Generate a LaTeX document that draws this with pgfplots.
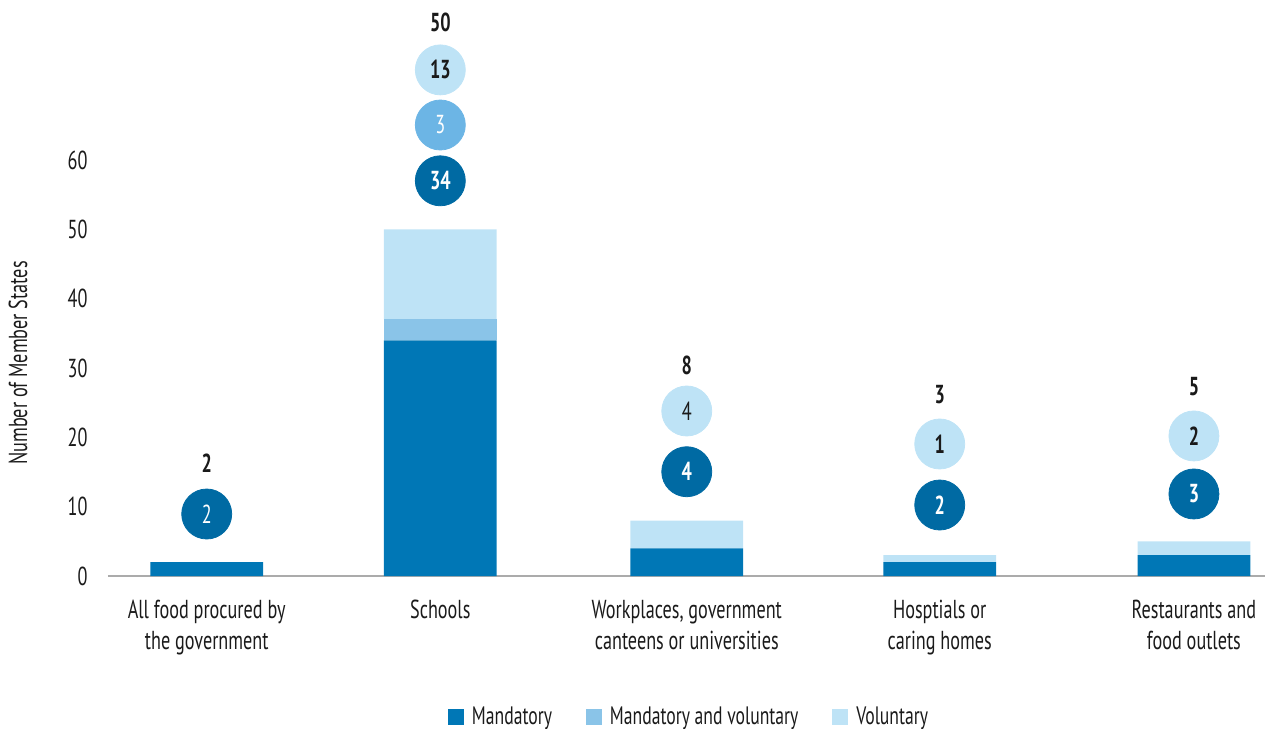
\documentclass[border=0pt]{standalone}
\usepackage{fontspec}
\setmainfont{PT Sans}[FakeStretch=0.7]
\usepackage{pgfplots}
\pgfplotsset{compat=1.18}
\definecolor{mand}{HTML}{0077B6}
\definecolor{both}{HTML}{8AC4E8}
\definecolor{vol}{HTML}{BEE3F6}
\definecolor{mandc}{HTML}{006AA3}
\definecolor{bothc}{HTML}{6CB5E5}
\definecolor{volc}{HTML}{BEE3F6}
\definecolor{axgray}{HTML}{ABABAB}
\definecolor{txt}{HTML}{1A1A1A}
\begin{document}
\begin{tikzpicture}
\pgfplotsset{
  common/.style={scale only axis, width=578.5pt, height=277.33pt,
    xmin=-0.4, xmax=4.288, ymin=0, ymax=80, clip=false,
    font=\fontsize{13}{15}\selectfont},
}
\begin{axis}[common, ybar stacked, bar width=56.35pt,
  axis x line=bottom, axis y line=left, axis line style={-},
  x axis line style={axgray, line width=0.7pt}, y axis line style={draw=none},
  major tick length=0pt, tick style={draw=none},
  ytick={0,10,...,60}, yticklabel style={xshift=-6.7pt, text=txt},
  xtick={0,0.9465,1.945,2.970,4.0},
  xticklabels={{All food procured by\\the government}, Schools, {Workplaces, government\\canteens or universities}, {Hosptials or\\caring homes}, {Restaurants and\\food outlets}},
  xticklabel style={align=center, anchor=north, yshift=-8.5pt, text=txt, font=\fontsize{13}{15.5}\selectfont},
  /pgf/number format/assume math mode=true,
  ylabel={Number of Member States},
  ylabel style={at={(axis description cs:-0.0778,0.384)}, anchor=center, text=txt},
  legend style={draw=none, at={(0.503,-0.254)}, anchor=center, legend columns=-1,
    inner sep=0pt, fill=none,
    /tikz/every odd column/.append style={column sep=2pt},
    /tikz/every even column/.append style={column sep=15pt},
    cells={anchor=west, inner ysep=1pt},
    font=\fontsize{12.6}{14}\selectfont, text=txt},
  legend image code/.code={\fill[#1] (0pt,-4pt) rectangle (8pt,4pt);},
]
\addplot[fill=mand, draw=none] coordinates {(0,2) (0.9465,34) (1.945,4) (2.970,2) (4.0,3)};
\addplot[fill=both, draw=none] coordinates {(0,0) (0.9465,3) (1.945,0) (2.970,0) (4.0,0)};
\addplot[fill=vol, draw=none] coordinates {(0,0) (0.9465,13) (1.945,4) (2.970,1) (4.0,2)};
\legend{Mandatory, Mandatory and voluntary, Voluntary}
\end{axis}
\begin{axis}[common, hide axis]
\addplot[only marks, mark=*, mark size=12.5pt, color=mandc,
  nodes near coords={\pgfplotspointmeta}, point meta=explicit symbolic,
  every node near coord/.append style={anchor=center, text=white}]
  coordinates {(0,8.94)[2] (0.9465,57.0)[\textbf{34}] (1.945,15.04)[\textbf{4}] (2.970,10.24)[\textbf{2}] (4.0,11.83)[\textbf{3}]};
\addplot[only marks, mark=*, mark size=12.5pt, color=bothc,
  nodes near coords={\pgfplotspointmeta}, point meta=explicit symbolic,
  every node near coord/.append style={anchor=center, text=white}]
  coordinates {(0.9465,65.05)[3]};
\addplot[only marks, mark=*, mark size=12.5pt, color=volc,
  nodes near coords={\pgfplotspointmeta}, point meta=explicit symbolic,
  every node near coord/.append style={anchor=center, text=txt}]
  coordinates {(0.9465,73.0)[\textbf{13}] (1.945,23.8)[4] (2.970,19.04)[\textbf{1}] (4.0,20.2)[\textbf{2}]};
\addplot[draw=none, mark=none,
  nodes near coords={\pgfplotspointmeta}, point meta=explicit symbolic,
  every node near coord/.append style={anchor=center, text=txt, font=\fontsize{13}{15}\selectfont\bfseries}]
  coordinates {(0,16.3)[2] (0.9465,79.8)[50] (1.945,30.4)[8] (2.970,26.1)[3] (4.0,27.26)[5]};
\end{axis}
\pgfresetboundingbox
\path (-54pt,-76.5pt) rectangle (579pt,288pt);
\end{tikzpicture}
\end{document}
